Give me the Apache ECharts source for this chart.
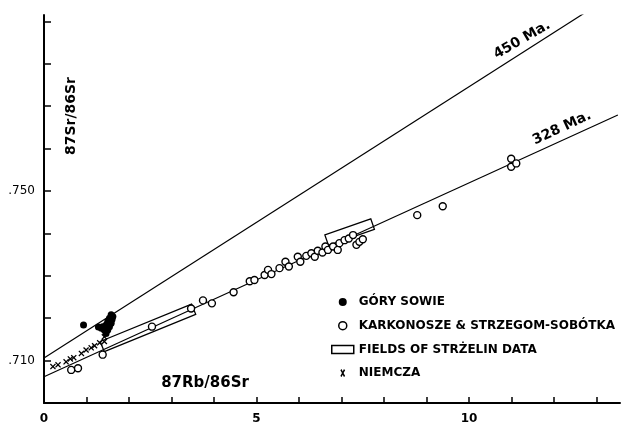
<!DOCTYPE html>
<html>
<head>
<meta charset="utf-8">
<script src="https://cdn.jsdelivr.net/npm/echarts@6/dist/echarts.min.js"></script>
<style>html,body{margin:0;padding:0;background:#fff}#c{width:622px;height:426px}</style>
</head>
<body>
<div id="c"></div>
<script>
// ---- data ----
const xTickValues = [1,2,3,4,5,6,7,8,9,10,11,12,13];
const xLabelValues = [0,5,10];
const yTickValues = [0.71,0.72,0.73,0.74,0.75,0.76,0.77,0.78,0.79];
const yLabelValues = [0.71,0.75];

const isochron450 = [[0, 0.7106], [12.72, 0.7920]];
const isochron328 = [[0, 0.7062], [13.50, 0.7679]];
const isochronLabels = ['450 Ma.', '328 Ma.'];

const gorySowie = [
  [0.93,0.7184],[1.28,0.7179],[1.35,0.7176],[1.42,0.7172],[1.38,0.7180],[1.46,0.7184],
  [1.50,0.7192],[1.54,0.7200],[1.58,0.7208],[1.62,0.7204],[1.50,0.7172],[1.46,0.7164],
  [1.54,0.7180],[1.58,0.7188],[1.60,0.7197]
];
const karkonosze = [
  [0.64,0.7078],[0.80,0.7082],[1.38,0.7114],[2.54,0.7180],[3.46,0.7223],[3.74,0.7242],
  [3.95,0.7235],[4.46,0.7261],[4.84,0.7287],[4.95,0.7290],[5.19,0.7302],[5.27,0.7314],
  [5.35,0.7304],[5.54,0.7318],[5.68,0.7333],[5.76,0.7322],[5.97,0.7345],[6.03,0.7333],
  [6.17,0.7347],[6.29,0.7353],[6.37,0.7345],[6.44,0.7359],[6.55,0.7355],[6.62,0.7369],
  [6.68,0.7361],[6.80,0.7369],[6.91,0.7361],[6.95,0.7377],[7.07,0.7384],[7.17,0.7388],
  [7.27,0.7396],[7.35,0.7373],[7.42,0.7380],[7.50,0.7386],[8.78,0.7443],[9.38,0.7464],
  [10.99,0.7576],[10.99,0.7557],[11.11,0.7565]
];
const strzelinFields = [
  [1.37, 0.7133, 3.52, 0.7221],
  [6.65, 0.7384, 7.73, 0.7422]
];
const niemcza = [
  [0.21,0.7086],[0.33,0.7090],[0.52,0.7097],[0.62,0.7104],[0.70,0.7107],[0.88,0.7117],
  [0.99,0.7125],[1.11,0.7130],[1.19,0.7135],[1.31,0.7142],[1.42,0.7145],[1.42,0.7156]
];
const seriesNames = ['GÓRY SOWIE','KARKONOSZE & STRZEGOM-SOBÓTKA','FIELDS OF STRŻELIN DATA','NIEMCZA'];
const xAxisTitle = '87Rb/86Sr';
const yAxisTitle = '87Sr/86Sr';

// ---- chart ----
const FONT = 'DejaVu Sans';
const crossPath = 'path://M0,1.5L1.5,0L5,3.5L8.5,0L10,1.5L6.5,5L10,8.5L8.5,10L5,6.5L1.5,10L0,8.5L3.5,5Z';
const crossLegend = 'path://M0,0L0.05,0L0.05,0.05Z M22,8L21.95,8L21.95,7.95Z M8.6,1.2L9.8,0L11,2.4L12.2,0L13.4,1.2L11.8,4L13.4,6.8L12.2,8L11,5.6L9.8,8L8.6,6.8L10.2,4Z';

const chart = echarts.init(document.getElementById('c'), null, {renderer:'canvas'});
chart.setOption({
  animation: false,
  backgroundColor: '#fff',
  grid: {left: 44, right: 2, top: 15, bottom: 23, containLabel: false},
  xAxis: {
    type: 'value', min: 0, max: 13.55,
    splitLine: {show: false},
    axisLine: {onZero: false, lineStyle: {color: '#000', width: 2}},
    axisTick: {inside: true, length: 6, lineStyle: {color: '#000', width: 1.5}, customValues: xTickValues},
    axisLabel: {customValues: xLabelValues, color: '#000', fontFamily: FONT, fontWeight: 'bold', fontSize: 12, margin: 10,
      formatter: v => String(Math.round(v))}
  },
  yAxis: {
    type: 'value', min: 0.70, max: 0.7915,
    splitLine: {show: false},
    axisLine: {onZero: false, lineStyle: {color: '#000', width: 2}},
    axisTick: {inside: true, length: 7, lineStyle: {color: '#000', width: 1.5}, customValues: yTickValues},
    axisLabel: {customValues: yLabelValues, color: '#000', fontFamily: FONT, fontSize: 12, margin: 9,
      formatter: v => v.toFixed(3).slice(1)}
  },
  legend: {
    orient: 'vertical', left: 326, top: 291, itemGap: 11.7, itemWidth: 22, itemHeight: 8,
    textStyle: {color: '#000', fontFamily: FONT, fontWeight: 'bold', fontSize: 12},
    selectedMode: false,
    data: [
      {name: seriesNames[0], icon: 'circle', itemStyle: {color: '#000', borderWidth: 0, opacity: 1}},
      {name: seriesNames[1], icon: 'circle', itemStyle: {color: '#fff', borderColor: '#000', borderWidth: 1.5, opacity: 1}},
      {name: seriesNames[2], icon: 'rect', itemStyle: {color: '#fff', borderColor: '#000', borderWidth: 1.5, opacity: 1}},
      {name: seriesNames[3], icon: crossLegend, itemStyle: {color: '#000', borderWidth: 0, opacity: 1}}
    ]
  },
  series: [
    {type: 'line', name: isochronLabels[0], data: isochron450, showSymbol: false, symbol: 'none',
     lineStyle: {color: '#000', width: 1.2}, z: 1, silent: true},
    {type: 'line', name: isochronLabels[1], data: isochron328, showSymbol: false, symbol: 'none',
     lineStyle: {color: '#000', width: 1.2}, z: 1, silent: true},
    {type: 'custom', name: seriesNames[2], data: strzelinFields, encode: {x: [0,2], y: [1,3]}, z: 2,
     itemStyle: {color: '#fff', borderColor: '#000'},
     renderItem: function (params, api) {
       const p1 = api.coord([api.value(0), api.value(1)]);
       const p2 = api.coord([api.value(2), api.value(3)]);
       const dx = p2[0]-p1[0], dy = p2[1]-p1[1];
       const len = Math.hypot(dx, dy), h = 5.5;
       const nx = -dy/len*h, ny = dx/len*h;
       return {type: 'polygon',
         shape: {points: [[p1[0]+nx,p1[1]+ny],[p2[0]+nx,p2[1]+ny],[p2[0]-nx,p2[1]-ny],[p1[0]-nx,p1[1]-ny]]},
         style: {fill: 'none', stroke: '#000', lineWidth: 1.3}};
     }},
    {type: 'scatter', name: seriesNames[1], data: karkonosze, symbol: 'circle', symbolSize: 7, z: 3,
     itemStyle: {color: '#fff', borderColor: '#000', borderWidth: 1.4, opacity: 1}},
    {type: 'scatter', name: seriesNames[0], data: gorySowie, symbol: 'circle', symbolSize: 7, z: 4,
     itemStyle: {color: '#000', opacity: 1}},
    {type: 'scatter', name: seriesNames[3], data: niemcza, symbol: crossPath, symbolSize: 6, z: 4,
     itemStyle: {color: '#000', opacity: 1}}
  ],
  graphic: [
    {type: 'text', x: 71, y: 116, rotation: Math.PI/2,
     style: {text: yAxisTitle, fill: '#000', font: 'bold 14px "DejaVu Sans"', align: 'center', verticalAlign: 'middle'}},
    {type: 'text', x: 205, y: 383,
     style: {text: xAxisTitle, fill: '#000', font: 'bold 15px "DejaVu Sans"', align: 'center', verticalAlign: 'middle'}},
    {type: 'text', x: 522, y: 40, rotation: 30*Math.PI/180,
     style: {text: isochronLabels[0], fill: '#000', font: 'bold 14px "DejaVu Sans"', align: 'center', verticalAlign: 'middle'}},
    {type: 'text', x: 562, y: 128, rotation: 25*Math.PI/180,
     style: {text: isochronLabels[1], fill: '#000', font: 'bold 14px "DejaVu Sans"', align: 'center', verticalAlign: 'middle'}}
  ]
});
</script>
</body>
</html>
